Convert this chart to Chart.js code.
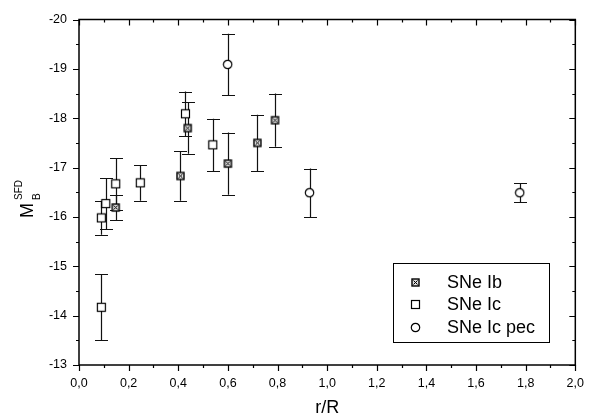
<!DOCTYPE html>
<html><head><meta charset="utf-8">
<script src="https://cdn.jsdelivr.net/npm/chart.js@4"></script>
<style>html,body{margin:0;padding:0;background:#fff}canvas{display:block}</style>
</head><body>
<canvas id="c" width="595" height="419"></canvas>
<script>
const ibX = [0.148, 0.409, 0.438, 0.600, 0.719, 0.790];
const ibY = [-16.19, -16.83, -17.80, -17.08, -17.50, -17.96];
const ibErr = [0.25, 0.50, 0.52, 0.63, 0.57, 0.54];
const icX = [0.090, 0.090, 0.108, 0.148, 0.247, 0.429, 0.539];
const icY = [-14.17, -15.98, -16.27, -16.67, -16.69, -18.09, -17.46];
const icErr = [0.67, 0.34, 0.52, 0.52, 0.36, 0.45, 0.53];
const pecX = [0.599, 0.929, 1.776];
const pecY = [-19.09, -16.49, -16.49];
const pecErr = [0.62, 0.49, 0.19];
const seriesLabels = ['SNe Ib', 'SNe Ic', 'SNe Ic pec'];
const xTickValues = [0, 0.2, 0.4, 0.6, 0.8, 1.0, 1.2, 1.4, 1.6, 1.8, 2.0];
const xTickLabels = ['0,0','0,2','0,4','0,6','0,8','1,0','1,2','1,4','1,6','1,8','2,0'];
const yTickValues = [-20, -19, -18, -17, -16, -15, -14, -13];
const yTickLabels = ['-20','-19','-18','-17','-16','-15','-14','-13'];
const xTitle = 'r/R';
const yTitleMain = 'M', yTitleSub = 'B', yTitleSup = 'SFD';

const FONT = "'Liberation Sans', Arial, sans-serif";
Chart.defaults.font.family = FONT;
Chart.defaults.color = '#000';

function labelFor(values, labels, v) {
  let best = 0;
  values.forEach((t, i) => { if (Math.abs(t - v) < Math.abs(values[best] - v)) best = i; });
  return labels[best];
}

function makeMarker(kind) {
  const s = 11, c = document.createElement('canvas');
  c.width = s; c.height = s;
  const g = c.getContext('2d');
  g.strokeStyle = '#000'; g.fillStyle = '#fff'; g.lineWidth = 1.2;
  if (kind === 'circle') {
    g.beginPath(); g.arc(5.5, 5.5, 4.2, 0, Math.PI * 2); g.fill(); g.stroke();
  } else if (kind === 'square') {
    g.fillRect(1.5, 1.5, 8, 8); g.strokeRect(1.5, 1.5, 8, 8);
  } else {
    g.fillStyle = '#ddd'; g.lineWidth = 1.4;
    g.fillRect(2, 2, 7, 7); g.strokeRect(2, 2, 7, 7);
    g.lineWidth = 1;
    g.beginPath(); g.moveTo(3.5, 3.5); g.lineTo(7.5, 7.5); g.moveTo(7.5, 3.5); g.lineTo(3.5, 7.5); g.stroke();
  }
  return c;
}
const markers = [makeMarker('ib'), makeMarker('square'), makeMarker('circle')];

function pts(xs, ys, es) { return xs.map((x, i) => ({ x: x, y: ys[i], err: es[i] })); }

const errorBars = {
  id: 'errorBars',
  beforeDatasetsDraw(chart) {
    const ctx = chart.ctx, xs = chart.scales.x, ys = chart.scales.y;
    ctx.save(); ctx.strokeStyle = '#111'; ctx.lineWidth = 1.2;
    chart.data.datasets.forEach(ds => {
      ds.data.forEach(p => {
        const px = Math.round(xs.getPixelForValue(p.x)) + 0.5;
        const y1 = ys.getPixelForValue(p.y - p.err), y2 = ys.getPixelForValue(p.y + p.err);
        ctx.beginPath();
        ctx.moveTo(px, y1); ctx.lineTo(px, y2);
        ctx.moveTo(px - 6.5, Math.round(y1) + 0.5); ctx.lineTo(px + 6.5, Math.round(y1) + 0.5);
        ctx.moveTo(px - 6.5, Math.round(y2) + 0.5); ctx.lineTo(px + 6.5, Math.round(y2) + 0.5);
        ctx.stroke();
      });
    });
    ctx.restore();
  }
};

const frame = {
  id: 'frame',
  afterDraw(chart) {
    const ctx = chart.ctx, a = chart.chartArea, xs = chart.scales.x, ys = chart.scales.y;
    ctx.save(); ctx.strokeStyle = '#000'; ctx.lineWidth = 1.5;
    ctx.strokeRect(a.left, a.top, a.right - a.left, a.bottom - a.top);
    ctx.lineWidth = 1.2;
    ctx.beginPath();
    for (let k = 0; k <= 20; k++) {
      const v = xs.min + k * 0.1;
      const px = Math.round(xs.getPixelForValue(v)) + 0.5;
      const major = k % 2 === 0;
      const L = major ? 6 : 3;
      ctx.moveTo(px, a.bottom); ctx.lineTo(px, a.bottom + L);
      ctx.moveTo(px, a.top); ctx.lineTo(px, a.top + L);
    }
    for (let k = 0; k <= 14; k++) {
      const v = ys.min + k * 0.5;
      const py = Math.round(ys.getPixelForValue(v)) + 0.5;
      const major = k % 2 === 0;
      const L = major ? 6 : 3;
      ctx.moveTo(a.left - L, py); ctx.lineTo(a.left, py);
      ctx.moveTo(a.right, py); ctx.lineTo(a.right - L, py);
    }
    ctx.stroke();

    // y title with sub/superscript
    ctx.fillStyle = '#000';
    ctx.translate(33.3, 218);
    ctx.rotate(-Math.PI / 2);
    ctx.textBaseline = 'alphabetic'; ctx.textAlign = 'left';
    ctx.font = '18px ' + FONT;
    ctx.fillText(yTitleMain, 0, 0);
    ctx.font = '10px ' + FONT;
    ctx.fillText(yTitleSub, 18, 6.7);
    ctx.fillText(yTitleSup, 18, -11.6);
    ctx.setTransform(1, 0, 0, 1, 0, 0);

    // legend
    ctx.lineWidth = 1; ctx.strokeStyle = '#000';
    ctx.fillStyle = '#fff';
    ctx.fillRect(393.5, 263.5, 156, 79);
    ctx.strokeRect(393.5, 263.5, 156, 79);
    const rows = [282, 304.5, 327];
    ctx.fillStyle = '#000'; ctx.font = '18px ' + FONT; ctx.textBaseline = 'middle';
    seriesLabels.forEach((lab, i) => {
      const m = markers[i];
      ctx.drawImage(m, Math.round(415 - m.width / 2), Math.round(rows[i] - m.height / 2));
      ctx.fillText(lab, 447, rows[i] + 1);
    });
    ctx.restore();
  }
};

new Chart(document.getElementById('c'), {
  type: 'scatter',
  data: {
    datasets: [
      { label: seriesLabels[0], data: pts(ibX, ibY, ibErr), pointStyle: markers[0], pointRadius: 5 },
      { label: seriesLabels[1], data: pts(icX, icY, icErr), pointStyle: markers[1], pointRadius: 5 },
      { label: seriesLabels[2], data: pts(pecX, pecY, pecErr), pointStyle: markers[2], pointRadius: 5 }
    ]
  },
  options: {
    responsive: false, animation: false, devicePixelRatio: 1,
    layout: { padding: { top: 13, right: 18, left: 0, bottom: 0 } },
    plugins: { legend: { display: false }, tooltip: { enabled: false } },
    scales: {
      x: {
        type: 'linear', min: 0, max: 2,
        grid: { display: false, drawTicks: false },
        border: { display: false },
        ticks: { stepSize: 0.2, padding: 11, font: { size: 12.5 }, color: '#000', maxRotation: 0,
                 callback: v => labelFor(xTickValues, xTickLabels, v) },
        title: { display: true, text: xTitle, font: { size: 18 }, color: '#000', padding: { top: 0, bottom: 0 } },
        afterFit: s => { s.height = 54; }
      },
      y: {
        type: 'linear', min: -20, max: -13, reverse: true,
        grid: { display: false, drawTicks: false },
        border: { display: false },
        ticks: { stepSize: 1, padding: 12, font: { size: 12.5 }, color: '#000',
                 callback: v => labelFor(yTickValues, yTickLabels, v) },
        afterFit: s => { s.width = 79; }
      }
    }
  },
  plugins: [errorBars, frame]
});
</script>
</body></html>
